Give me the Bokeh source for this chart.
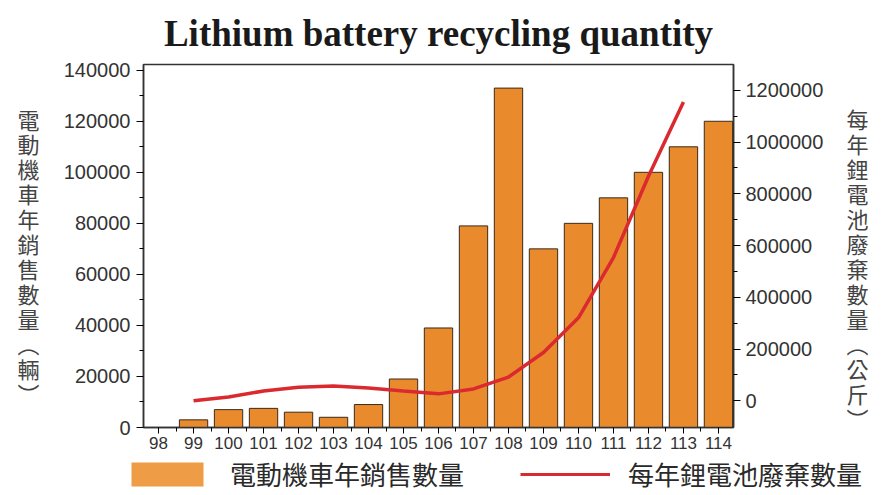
from bokeh.plotting import figure
from bokeh.layouts import row, column
from bokeh.models import (Range1d, LinearAxis, FixedTicker, Legend, LegendItem,
                          BasicTickFormatter, Label)
from bokeh.embed import file_html
from bokeh.resources import INLINE

# ---- data ----
years = [98, 99, 100, 101, 102, 103, 104, 105, 106, 107, 108, 109, 110, 111, 112, 113, 114]
sales = [0, 3000, 7000, 7500, 6000, 4000, 9000, 19000, 39000, 79000, 133000,
         70000, 80000, 90000, 100000, 110000, 120000]
line_years = [99, 100, 101, 102, 103, 104, 105, 106, 107, 108, 109, 110, 111, 112, 113]
waste = [0, 15000, 38000, 53000, 57000, 50000, 38000, 27000, 46000, 92000,
         187000, 321000, 554000, 868000, 1155000]
left_ticks = [0, 20000, 40000, 60000, 80000, 100000, 120000, 140000]
left_minor = [10000, 30000, 50000, 70000, 90000, 110000, 130000]
right_ticks = [0, 200000, 400000, 600000, 800000, 1000000, 1200000]
right_minor = [100000, 300000, 500000, 700000, 900000, 1100000]
x_minor = [y + 0.5 for y in years[:-1]]

title_text = "Lithium battery recycling quantity"
left_label = "電動機車年銷售數量︵輛︶"
right_label = "每年鋰電池廢棄數量︵公斤︶"
bar_name = "電動機車年銷售數量"
line_name = "每年鋰電池廢棄數量"

CJK = "Noto Sans CJK TC"
SANS = "Liberation Sans"
BAR_FILL = "#E98B2C"
LINE_COL = "#DA2A30"
MAIN_H = 457

# ---------------- main chart ----------------
p = figure(width=770, height=MAIN_H, output_backend="svg", toolbar_location=None,
           x_range=Range1d(97.57, 114.43), y_range=Range1d(0, 142250),
           min_border_left=82, min_border_right=97, min_border_top=60,
           min_border_bottom=30, title=title_text)
p.extra_y_ranges = {"right": Range1d(-103000, 1300000)}

p.title.text_font = "Liberation Serif"
p.title.text_font_style = "bold"
p.title.text_font_size = "37px"
p.title.text_color = "#1a1a1a"
p.title.align = "center"
p.title.standoff = 21

p.grid.visible = False
p.outline_line_color = "#333333"
p.outline_line_width = 1.5
p.background_fill_color = "white"
p.border_fill_color = "white"

bars = p.vbar(x=years, top=sales, width=0.81, fill_color=BAR_FILL,
              line_color="#3a2a1a", line_width=1)
ln = p.line(line_years, waste, y_range_name="right", line_color=LINE_COL,
            line_width=3.5)

# x axis
xa = p.xaxis[0]
xa.ticker = FixedTicker(ticks=years, minor_ticks=x_minor)
xa.major_label_text_font = SANS
xa.major_label_text_font_size = "17px"
xa.major_label_text_color = "#333333"
xa.major_tick_in = 0
xa.major_tick_out = 6
xa.minor_tick_in = 0
xa.minor_tick_out = 4
xa.major_label_standoff = 3
xa.axis_line_color = "#333333"
xa.axis_line_width = 1.5

# left axis
ya = p.yaxis[0]
ya.ticker = FixedTicker(ticks=left_ticks, minor_ticks=left_minor)
ya.formatter = BasicTickFormatter(use_scientific=False)
ya.major_label_text_font = SANS
ya.major_label_text_font_size = "20px"
ya.major_label_text_color = "#333333"
ya.major_tick_in = 0
ya.major_tick_out = 7
ya.minor_tick_in = 0
ya.minor_tick_out = 4
ya.major_label_standoff = 6
ya.axis_line_color = "#333333"
ya.axis_line_width = 1.5

# right axis
ra = LinearAxis(y_range_name="right",
                ticker=FixedTicker(ticks=right_ticks, minor_ticks=right_minor),
                formatter=BasicTickFormatter(use_scientific=False))
ra.major_label_text_font = SANS
ra.major_label_text_font_size = "20px"
ra.major_label_text_color = "#333333"
ra.major_tick_in = 0
ra.major_tick_out = 7
ra.minor_tick_in = 0
ra.minor_tick_out = 4
ra.major_label_standoff = 5
ra.axis_line_color = "#333333"
ra.axis_line_width = 1.5
p.add_layout(ra, "right")


# ---------------- stacked vertical axis titles ----------------
def side_title(width, txt, fx, fy):
    f = figure(width=width, height=MAIN_H, output_backend="svg", toolbar_location=None,
               x_range=Range1d(0, 1), y_range=Range1d(0, 1),
               x_axis_type=None, y_axis_type=None, min_border=0)
    f.grid.visible = False
    f.outline_line_color = None
    f.add_layout(Label(x=fx, y=fy, text="\n".join(txt), text_font=CJK,
                       text_font_size="22px", text_color="#444444",
                       text_align="center", text_baseline="middle",
                       text_line_height=0.78))
    return f


left_fig = side_title(60, left_label, 0.467, 0.473)
right_fig = side_title(54, right_label, 0.5, 0.44)

# ---------------- legend strip ----------------
lg = figure(width=884, height=38, output_backend="svg", toolbar_location=None,
            x_range=Range1d(97.57, 114.43), y_range=Range1d(0, 142250),
            x_axis_type=None, y_axis_type=None, min_border=0)
lg.extra_y_ranges = {"right": Range1d(-103000, 1300000)}
lg.grid.visible = False
lg.outline_line_color = None
bar_proxy = lg.vbar(x=years, top=sales, width=0.81, fill_color="#EE9C45",
                    line_color=None, visible=False)
line_proxy = lg.line(line_years, waste, y_range_name="right",
                     line_color=LINE_COL, line_width=3, visible=False)
legend = Legend(items=[LegendItem(label=bar_name, renderers=[bar_proxy]),
                       LegendItem(label=line_name, renderers=[line_proxy])],
                orientation="horizontal", location=(122, 3))
legend.label_text_font = CJK
legend.label_text_font_size = "26px"
legend.label_text_line_height = 1.0
legend.label_text_color = "#2a2a2a"
legend.glyph_width = 90
legend.glyph_height = 30
legend.label_standoff = 18
legend.spacing = 56
legend.padding = 0
legend.margin = 0
legend.border_line_color = None
legend.background_fill_alpha = 0
legend.inactive_fill_alpha = 0
lg.add_layout(legend)

layout = column(row(left_fig, p, right_fig, spacing=0), lg, spacing=0)

open("out.html", "w").write(file_html(layout, INLINE))
